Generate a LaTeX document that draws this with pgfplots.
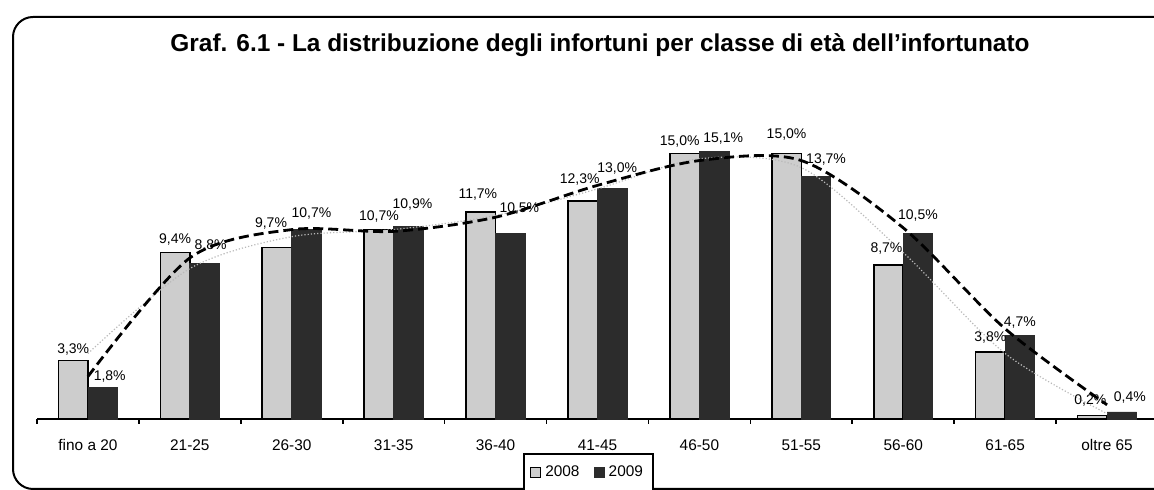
\documentclass[border=0pt]{standalone}
\usepackage{pgfplots}
\pgfplotsset{compat=1.18}
\usepackage{pgfplotstable}
\usepackage{fontspec}
\setmainfont{Liberation Sans}
\definecolor{lightbar}{HTML}{CDCDCD}
\definecolor{darkbar}{HTML}{2C2C2C}
\pgfplotsset{sqlegend/.style={legend image code/.code={\draw[##1, line width=0.6pt] (0pt,-2.5pt) rectangle (5pt,2.5pt);}}}
\pgfplotstableread{
x y2008 y2009 t2008 t2009 dxa dxb dya dyb
0 3.3 1.8 3.7 2.4 0 3.5 0 0
1 9.4 8.8 8.5 9.1 0 3 1.5 4
2 9.7 10.7 10.3 10.7 -3 2.5 6.5 3
3 10.7 10.9 10.7 10.6 0 2 1.5 5.5
4 11.7 10.5 11.5 11.4 -1.5 4.5 3.5 7
5 12.3 13.0 13.0 13.2 -1.5 2.5 5.5 5
6 15.0 15.1 14.7 14.6 -2.5 4.5 0.5 1.5
7 15.0 13.7 14.2 14.6 0 5 4 3.5
8 8.7 10.5 9.4 10.8 -1 0 3 3.5
9 3.8 4.7 3.7 5.1 0 0 2 1.5
10 0.2 0.4 0.3 0.8 -1 4 2 2
}\data
\begin{document}
\begin{tikzpicture}
\useasboundingbox (0,0) rectangle (577pt,245pt);
\draw[line width=1pt, rounded corners=10pt] (6.5pt,0.5pt) rectangle (610pt,236.5pt);
\node[font=\bfseries\fontsize{12.2}{14}\selectfont] at (300pt,222.5pt) {Graf. 6.1 - La distribuzione degli infortuni per classe di età dell'infortunato};
\begin{axis}[
  at={(18.5pt,35.5pt)}, anchor=south west,
  scale only axis, width=560.5pt, height=159.3pt,
  ymin=0, ymax=18, xmin=-0.5, xmax=10.5,
  axis x line=bottom, axis y line=none,
  x axis line style={-, line width=1pt},
  xtick={0,...,10},
  xticklabels={fino a 20,21-25,26-30,31-35,36-40,41-45,46-50,51-55,56-60,61-65,oltre 65},
  major tick length=0pt,
  minor xtick={-0.5,0.5,...,10.5}, minor tick length=2.5pt, tick align=outside,
  tick style={black, line width=0.8pt},
  xticklabel style={font=\fontsize{7.7}{9}\selectfont, text height=6pt, text depth=1pt, yshift=-6pt},
  clip=false,
  legend columns=2,
  legend style={at={(axis description cs:0.492,0)}, anchor=north, yshift=-17pt,
    draw=black, line width=0.8pt, font=\fontsize{7.7}{9}\selectfont,
    inner ysep=4pt, inner xsep=3pt,
    /tikz/every even column/.append style={column sep=5pt}},
  legend cell align=left,
  barlab/.style={nodes near coords={\pgfmathprintnumber[fixed,fixed zerofill,precision=1,use comma,assume math mode=true]{\pgfplotspointmeta}\%},
    every node near coord/.append style={font=\fontsize{7}{8}\selectfont, black, inner sep=2pt}},
]
\addplot[ybar, bar width=14.75pt, bar shift=-7.375pt, fill=lightbar, draw=black, line width=0.8pt, barlab, sqlegend,
  visualization depends on={\thisrow{dxa} \as \dx},
  visualization depends on={\thisrow{dya} \as \dy},
  every node near coord/.append style={xshift=-7.375pt+\dx pt, yshift=\dy pt}]
  table[x=x, y=y2008] {\data};
\addplot[ybar, bar width=14.75pt, bar shift=7.375pt, fill=darkbar, draw=darkbar, line width=0.4pt, barlab, sqlegend,
  visualization depends on={\thisrow{dxb} \as \dx},
  visualization depends on={\thisrow{dyb} \as \dy},
  every node near coord/.append style={xshift=7.375pt+\dx pt, yshift=\dy pt}]
  table[x=x, y=y2009] {\data};
\addplot[forget plot, smooth, no marks, gray!55, line width=0.6pt, densely dotted]
  table[x=x, y=t2008] {\data};
\addplot[forget plot, smooth, no marks, black, line width=1.4pt, dash pattern=on 5pt off 2.5pt]
  table[x=x, y=t2009] {\data};
\legend{2008,2009}
\end{axis}
\end{tikzpicture}
\end{document}
